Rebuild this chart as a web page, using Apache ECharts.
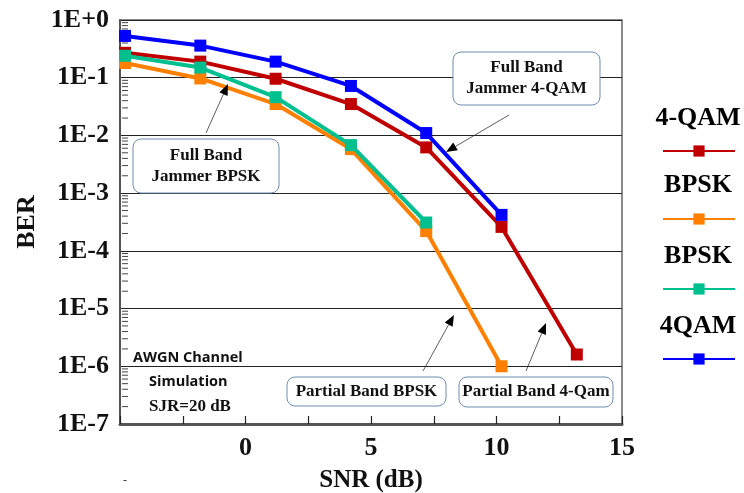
<!DOCTYPE html>
<html><head><meta charset="utf-8">
<script src="https://cdn.jsdelivr.net/npm/echarts@6/dist/echarts.min.js"></script>
<style>html,body{margin:0;padding:0;background:#fff}#c{width:744px;height:493px}</style>
</head><body><div id="c"></div>
<script>
// ---- data ----
const snr = [-4.8, -1.8, 1.2, 4.2, 7.2, 10.2, 13.2];
const ber4qamRed   = [0.27, 0.19, 0.096, 0.035, 0.0062, 0.00026, 1.6e-6];
const berBpskOrange = [0.18, 0.097, 0.035, 0.0058, 0.00022, 1.0e-6];
const berBpskTeal  = [0.24, 0.15, 0.046, 0.0068, 0.00031];
const ber4qamBlue  = [0.53, 0.36, 0.19, 0.072, 0.011, 0.00042];
const seriesNames = ['4-QAM', 'BPSK', 'BPSK ', '4QAM'];
const legendLabels = ['4-QAM', 'BPSK', 'BPSK', '4QAM'];
const seriesColors = ['#c00000', '#ff8000', '#00c090', '#0000ff'];
const xTickLabels = [0, 5, 10, 15];
const yDecades = [-7, -6, -5, -4, -3, -2, -1];
const yMinorMultipliers = [2, 3, 4, 5, 6, 7, 8, 9];

const serif = '"Liberation Serif","Times New Roman",serif';
const pairs = (ys) => ys.map((y, i) => [snr[i], y]);
const allData = [ber4qamRed, berBpskOrange, berBpskTeal, ber4qamBlue];

const chart = echarts.init(document.getElementById('c'), null, {renderer: 'canvas'});

function arrow(x1, y1, x2, y2) {
  const a = Math.atan2(y2 - y1, x2 - x1), L = 11, W = 4.5;
  const bx = x2 - L * Math.cos(a), by = y2 - L * Math.sin(a);
  const px = -Math.sin(a) * W, py = Math.cos(a) * W;
  return [
    {type: 'line', shape: {x1, y1, x2: bx, y2: by}, style: {stroke: '#333', lineWidth: 0.8}, z: 100},
    {type: 'polygon', shape: {points: [[x2, y2], [bx + px, by + py], [bx - px, by - py]]}, style: {fill: '#000'}, z: 100}
  ];
}
function box(x, y, w, h, lines, lineGap) {
  const els = [{type: 'rect', shape: {x, y, width: w, height: h, r: 8},
    style: {fill: '#fff', stroke: '#6d8db3', lineWidth: 1}, z: 90}];
  const n = lines.length;
  lines.forEach((t, i) => {
    els.push({type: 'text', x: x + w / 2, y: y + h / 2 + (i - (n - 1) / 2) * lineGap,
      style: {text: t, font: 'bold 17px ' + serif, fill: '#111', align: 'center', verticalAlign: 'middle'}, z: 95});
  });
  return els;
}

const legendY = [151, 219, 289, 359];
const legendTextY = [118, 185, 256, 326];

const graphics = [].concat(
  box(133, 139, 146, 54, ['Full Band', 'Jammer BPSK'], 21),
  arrow(206, 133, 228, 84),
  box(453, 52, 147, 53, ['Full Band', 'Jammer 4-QAM'], 21),
  arrow(509, 115, 446, 152),
  box(287, 377, 159, 29, ['Partial Band BPSK'], 0),
  arrow(423, 371, 454, 315),
  box(459, 377, 154, 30, ['Partial Band 4-Qam'], 0),
  arrow(526, 371, 546, 323),
  legendLabels.map((t, i) => ({type: 'text', x: 698, y: legendTextY[i],
    style: {text: t, font: 'bold 26px ' + serif, fill: '#000', align: 'center', verticalAlign: 'middle'}})),
  [
    {type: 'text', x: 133, y: 358, style: {text: 'AWGN Channel', font: 'bold 14.5px "Open Sans",sans-serif', fill: '#111', verticalAlign: 'middle'}},
    {type: 'text', x: 149, y: 382, style: {text: 'Simulation', font: 'bold 14.5px "Open Sans",sans-serif', fill: '#111', verticalAlign: 'middle'}},
    {type: 'text', x: 149, y: 407, style: {text: 'SJR=20 dB', font: 'bold 17px ' + serif, fill: '#111', verticalAlign: 'middle'}},
    {type: 'text', x: 123, y: 481, style: {text: '-', font: '12px ' + serif, fill: '#333', verticalAlign: 'middle'}}
  ]
);

const minorTickSeries = {
  type: 'custom', silent: true, data: [[-5, 1]], z: 5,
  renderItem: (params, api) => {
    const children = [];
    yDecades.forEach(e => {
      yMinorMultipliers.forEach(k => {
        const p = api.coord([-5, k * Math.pow(10, e)]);
        children.push({type: 'line', shape: {x1: p[0] + 2, y1: p[1], x2: p[0] + 8, y2: p[1]},
          style: {stroke: '#444', lineWidth: 1}});
      });
    });
    return {type: 'group', children};
  }
};

const option = {
  animation: false,
  grid: {left: 120, right: 122, top: 20, bottom: 69, show: true, borderColor: '#666', borderWidth: 1.5,
    backgroundColor: 'transparent', containLabel: false, outerBoundsMode: 'none'},
  legend: seriesNames.map((n, i) => ({
    data: [n], left: 662, top: legendY[i] - 7, itemWidth: 72, itemHeight: 14,
    formatter: () => '', selectedMode: false, padding: 0, itemGap: 0
  })),
  xAxis: {
    type: 'value', min: -5, max: 15, interval: 2.5,
    name: 'SNR (dB)', nameLocation: 'middle', nameGap: 44,
    nameTextStyle: {fontFamily: serif, fontWeight: 'bold', fontSize: 25, color: '#111'},
    axisLine: {onZero: false, lineStyle: {color: '#555', width: 3}},
    axisTick: {inside: true, length: 8, lineStyle: {color: '#222', width: 1.2}},
    axisLabel: {fontFamily: serif, fontWeight: 'bold', fontSize: 26, color: '#111', margin: 11,
      formatter: v => xTickLabels.indexOf(v) >= 0 ? String(v) : ''},
    splitLine: {show: false}
  },
  yAxis: {
    type: 'log', logBase: 10, min: 1e-7, max: 1,
    name: 'BER', nameLocation: 'middle', nameGap: 73,
    nameTextStyle: {fontFamily: serif, fontWeight: 'bold', fontSize: 26, color: '#111'},
    axisLine: {onZero: false, lineStyle: {color: '#555', width: 2}},
    axisTick: {show: false},
    minorTick: {show: false},
    axisLabel: {fontFamily: serif, fontWeight: 'bold', fontSize: 26, color: '#111', margin: 11,
      formatter: v => { const e = Math.round(Math.log10(v)); return '1E' + (e >= 0 ? '+' + e : e); }},
    splitLine: {show: true, lineStyle: {color: '#222', width: 1}}
  },
  series: allData.map((d, i) => ({
    name: seriesNames[i], type: 'line', data: pairs(d),
    symbol: 'rect', symbolSize: 12, showSymbol: true,
    lineStyle: {color: seriesColors[i], width: 4},
    itemStyle: {color: seriesColors[i]},
    z: 10 + i
  })).concat([minorTickSeries]),
  graphic: graphics
};
chart.setOption(option);
</script></body></html>
